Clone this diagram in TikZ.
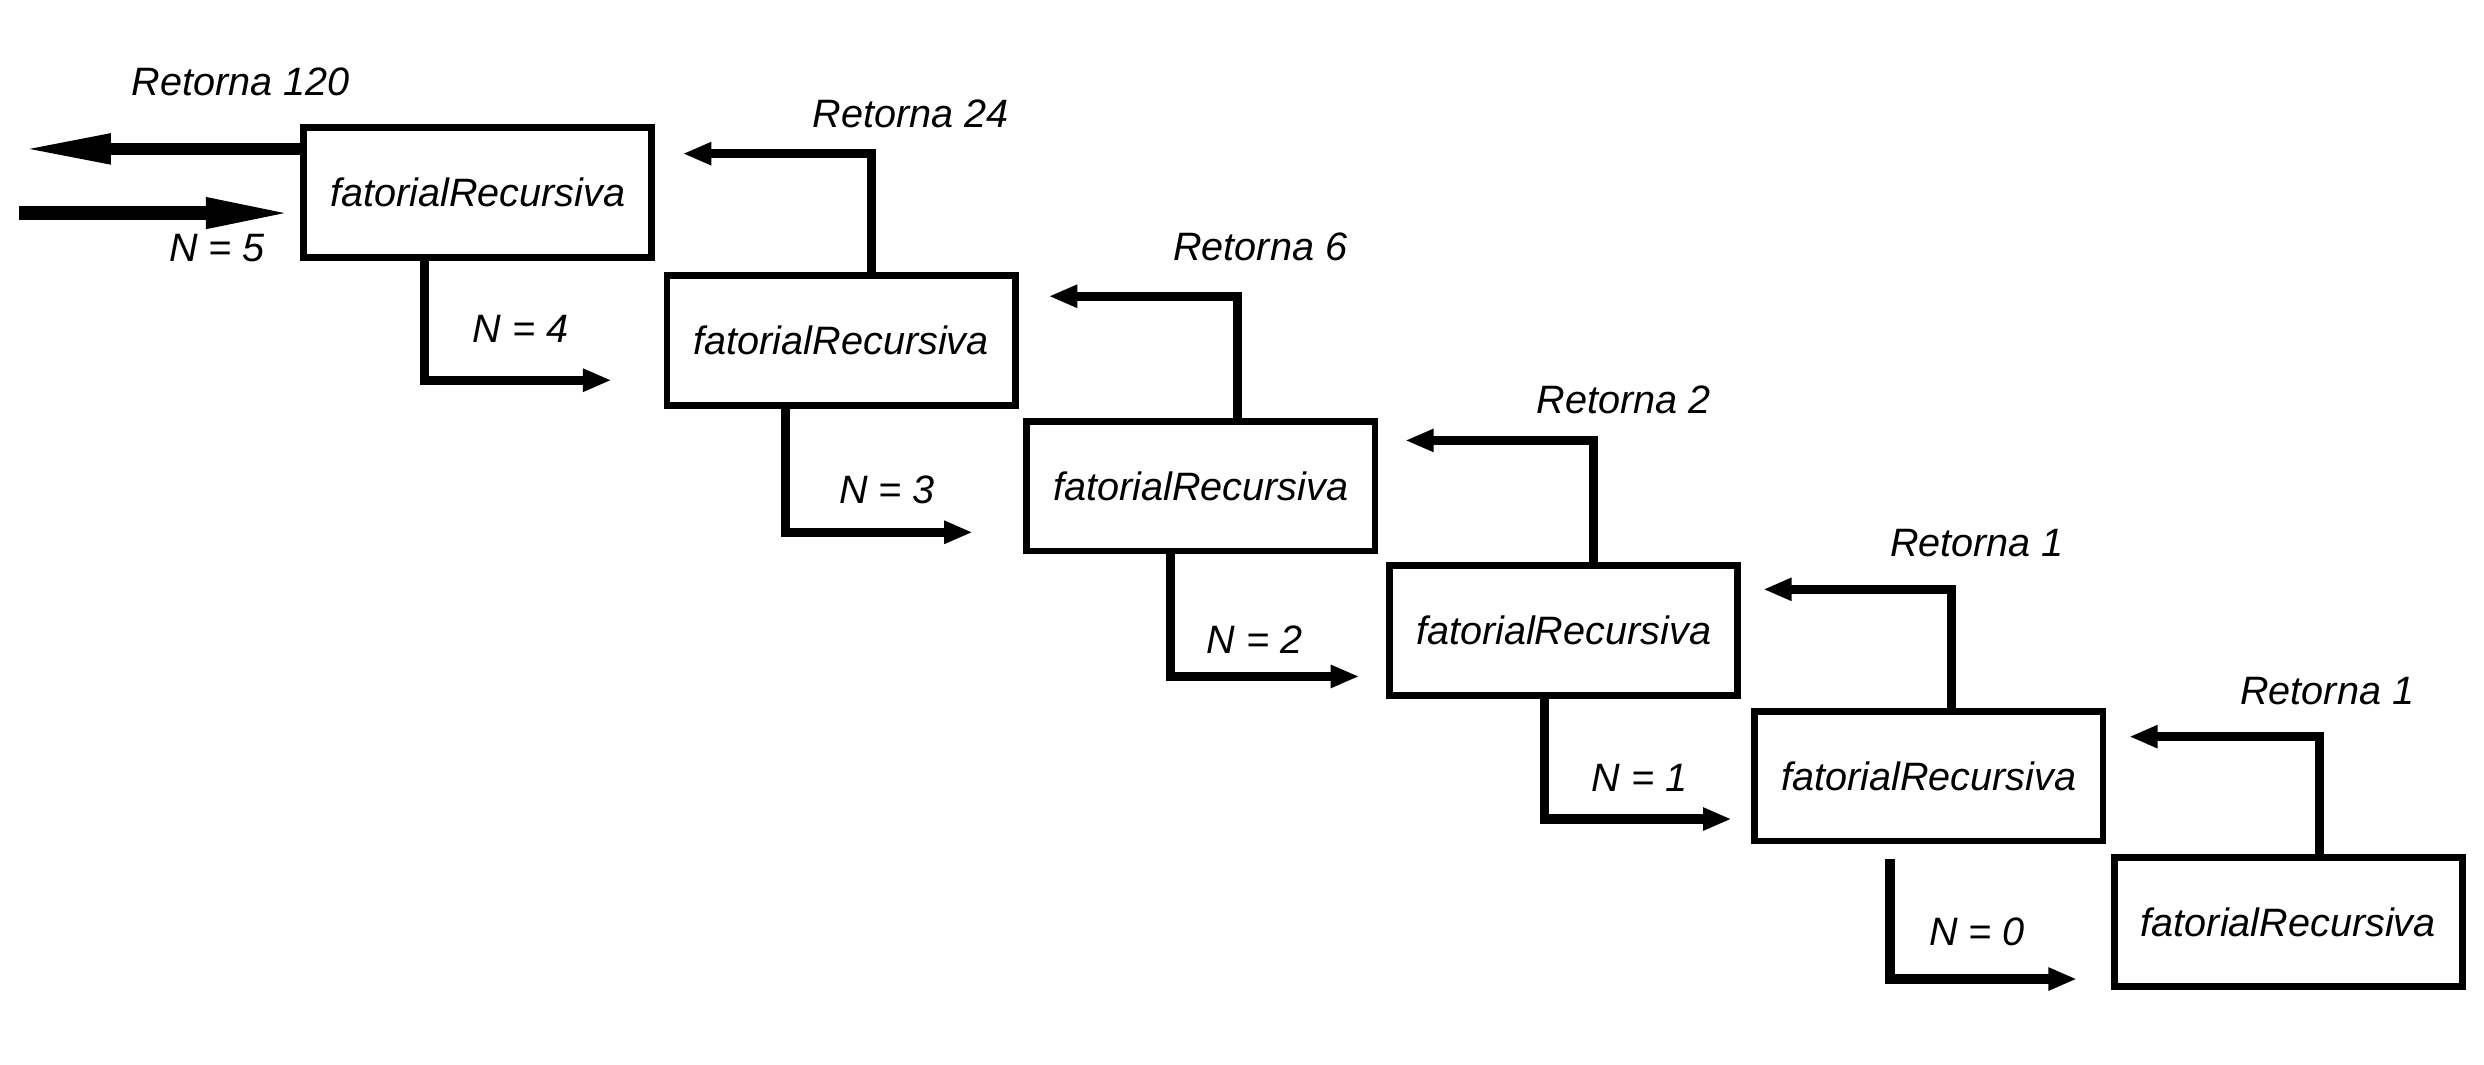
\documentclass[tikz,border=0pt]{standalone}
\usepackage{fontspec}
\setmainfont{Liberation Sans}
\usetikzlibrary{arrows.meta}
\begin{document}
\begin{tikzpicture}[x=1pt,y=-1pt,
  fbox/.style={draw, line width=4.2pt, minimum width=219.8pt, minimum height=81.8pt,
    inner sep=0pt, outer sep=0pt, font=\itshape\fontsize{25}{30}\selectfont},
  lbl/.style={inner sep=0pt, font=\itshape\fontsize{25}{30}\selectfont},
  flow/.style={line width=5.8pt, line join=miter, -{Triangle[length=18pt,width=13.5pt]}},
  bigflow/.style={-{Triangle[length=56pt,width=17.5pt]}}
]
\useasboundingbox (0,0) rectangle (1568,671.7);

% boxes
\node[fbox] (b1) at (301.5,121.5) {fatorialRecursiva};
\node[fbox] (b2) at (531,215) {fatorialRecursiva};
\node[fbox] (b3) at (758,307) {fatorialRecursiva};
\node[fbox] (b4) at (987,398) {fatorialRecursiva};
\node[fbox] (b5) at (1217.5,490) {fatorialRecursiva};
\node[fbox] (b6) at (1444.5,582) {fatorialRecursiva};

% outer arrows
\coordinate (ret) at (14,94);
\coordinate (ins) at (12,134.5);
\coordinate (int) at (186,134.5);
\draw[bigflow, line width=7.5pt] (ret -| b1.west) -- (ret);
\draw[bigflow, line width=8.5pt] (ins) -- (int);

% call arrows
\coordinate (c1) at (268,240);  \coordinate (c1t) at (386,240);
\coordinate (c2) at (496,336);  \coordinate (c2t) at (614,336);
\coordinate (c3) at (739,427);  \coordinate (c3t) at (858,427);
\coordinate (c4) at (975,517);  \coordinate (c4t) at (1093,517);
\coordinate (c5s) at (1193,542); \coordinate (c5) at (1193,618); \coordinate (c5t) at (1311,618);
\draw[flow] (c1 |- b1.south) -- (c1) -- (c1t);
\draw[flow] (c2 |- b2.south) -- (c2) -- (c2t);
\draw[flow] (c3 |- b3.south) -- (c3) -- (c3t);
\draw[flow] (c4 |- b4.south) -- (c4) -- (c4t);
\draw[flow] (c5s) -- (c5) -- (c5t);

% return arrows
\coordinate (r1) at (550,97);   \coordinate (r1t) at (431,97);
\coordinate (r2) at (781,187);  \coordinate (r2t) at (662,187);
\coordinate (r3) at (1006,278); \coordinate (r3t) at (887,278);
\coordinate (r4) at (1232,372); \coordinate (r4t) at (1113,372);
\coordinate (r5) at (1464,465); \coordinate (r5t) at (1344,465);
\draw[flow] (r1 |- b2.north) -- (r1) -- (r1t);
\draw[flow] (r2 |- b3.north) -- (r2) -- (r2t);
\draw[flow] (r3 |- b4.north) -- (r3) -- (r3t);
\draw[flow] (r4 |- b5.north) -- (r4) -- (r4t);
\draw[flow] (r5 |- b6.north) -- (r5) -- (r5t);

% labels
\node[lbl] (l120) at (152,51.5) {Retorna 120};
\node[lbl] (ln5) at (137,156.5) {N = 5};
\node[lbl] (ln4) at (328.5,207.5) {N = 4};
\node[lbl] (l24) at (575,72) {Retorna 24};
\node[lbl] (l6) at (795.5,156) {Retorna 6};
\node[lbl] (ln3) at (560,309) {N = 3};
\node[lbl] (l2) at (1025,252.5) {Retorna 2};
\node[lbl] (ln2) at (792,403.5) {N = 2};
\node[lbl] (l1a) at (1248,343) {Retorna 1};
\node[lbl] (ln1) at (1035,491) {N = 1};
\node[lbl] (l1b) at (1469,436.5) {Retorna 1};
\node[lbl] (ln0) at (1248,588) {N = 0};
\end{tikzpicture}
\end{document}
